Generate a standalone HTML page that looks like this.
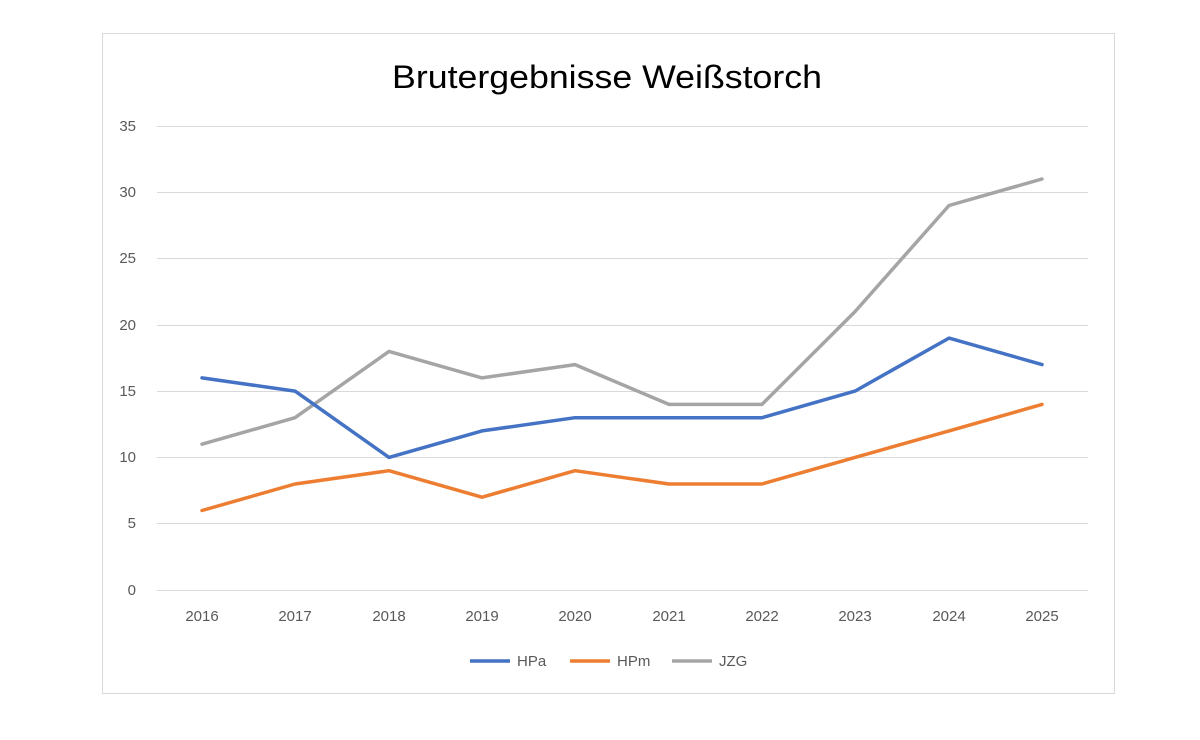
<!DOCTYPE html>
<html><head><meta charset="utf-8"><style>
html,body{margin:0;padding:0;background:#fff;width:1200px;height:740px;overflow:hidden}
svg{display:block}
text{font-family:"Liberation Sans",sans-serif}
</style></head><body>
<svg width="1200" height="740" viewBox="0 0 1200 740">
<rect x="102.5" y="33.5" width="1012" height="660" fill="#fff" stroke="#d9d9d9" stroke-width="1"/>
<text x="392" y="88" font-size="32" fill="#000" textLength="430" lengthAdjust="spacingAndGlyphs">Brutergebnisse Weißstorch</text>
<g stroke="#d9d9d9" stroke-width="1">
<line x1="157" x2="1088" y1="126.5" y2="126.5"/>
<line x1="157" x2="1088" y1="192.5" y2="192.5"/>
<line x1="157" x2="1088" y1="258.5" y2="258.5"/>
<line x1="157" x2="1088" y1="325.5" y2="325.5"/>
<line x1="157" x2="1088" y1="391.5" y2="391.5"/>
<line x1="157" x2="1088" y1="457.5" y2="457.5"/>
<line x1="157" x2="1088" y1="523.5" y2="523.5"/>
<line x1="157" x2="1088" y1="590.5" y2="590.5"/>
</g>
<g font-size="15" fill="#595959" text-anchor="end">
<text x="136" y="131">35</text><text x="136" y="197">30</text><text x="136" y="263">25</text>
<text x="136" y="330">20</text><text x="136" y="396">15</text><text x="136" y="462">10</text>
<text x="136" y="528">5</text><text x="136" y="595">0</text>
</g>
<g font-size="15" fill="#595959" text-anchor="middle">
<text x="202" y="621">2016</text><text x="295" y="621">2017</text><text x="389" y="621">2018</text>
<text x="482" y="621">2019</text><text x="575" y="621">2020</text><text x="669" y="621">2021</text>
<text x="762" y="621">2022</text><text x="855" y="621">2023</text><text x="949" y="621">2024</text>
<text x="1042" y="621">2025</text>
</g>
<g fill="none" stroke-width="3.5" stroke-linejoin="round" stroke-linecap="round">
<polyline stroke="#A5A5A5" points="202,444.2 295,417.7 389,351.4 482,377.9 575,364.6 669,404.4 762,404.4 855,311.6 949,205.5 1042,179"/>
<polyline stroke="#ED7D31" points="202,510.5 295,484 389,470.7 482,497.2 575,470.7 669,484 762,484 855,457.4 949,430.9 1042,404.4"/>
<polyline stroke="#4472C4" points="202,377.9 295,391.1 389,457.4 482,430.9 575,417.7 669,417.7 762,417.7 855,391.1 949,338.1 1042,364.6"/>
</g>
<g font-size="15" fill="#595959">
<line x1="470" x2="510" y1="661" y2="661" stroke="#4472C4" stroke-width="3.5"/>
<text x="517" y="666">HPa</text>
<line x1="570" x2="610" y1="661" y2="661" stroke="#ED7D31" stroke-width="3.5"/>
<text x="617" y="666">HPm</text>
<line x1="672" x2="712" y1="661" y2="661" stroke="#A5A5A5" stroke-width="3.5"/>
<text x="719" y="666">JZG</text>
</g>
</svg>
</body></html>
